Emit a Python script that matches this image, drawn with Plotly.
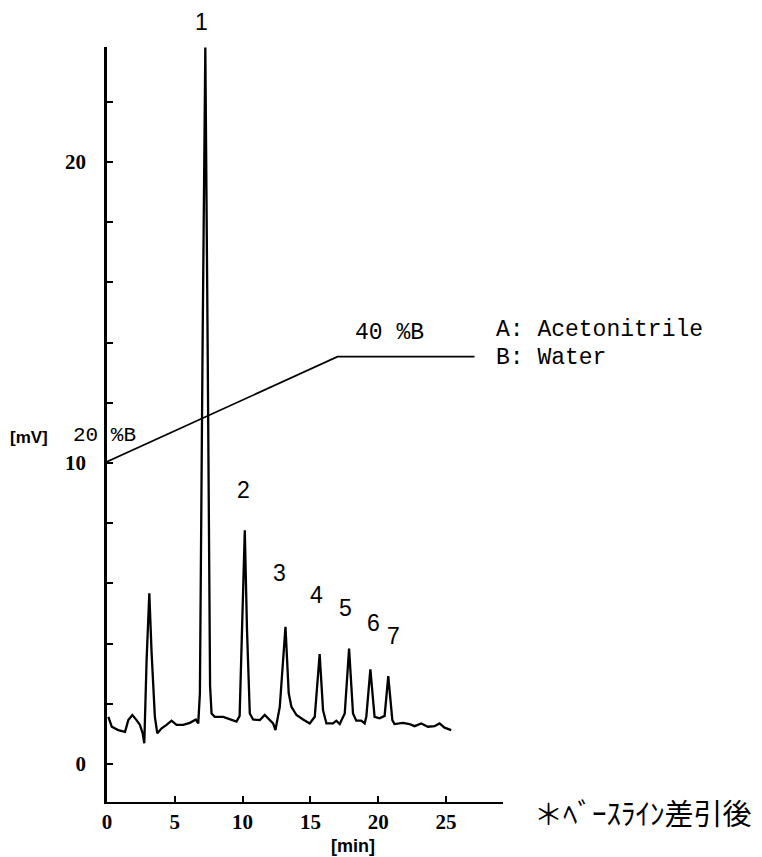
import plotly.graph_objects as go

# Chromatogram (time in min, signal in mV)
time_min = [0.1, 0.35, 0.83, 1.33, 1.57, 1.87, 2.18, 2.43, 2.63, 2.75, 2.92, 3.12, 3.29, 3.53, 3.71,
            4.03, 4.39, 4.76, 5.13, 5.62, 6.11, 6.55, 6.73, 6.85, 7.05, 7.25, 7.42, 7.6, 7.71, 7.95,
            8.57, 9.18, 9.55, 9.78, 10.0, 10.16, 10.32, 10.53, 10.77, 11.27, 11.63, 12.0, 12.25, 12.42,
            12.74, 13.16, 13.4, 13.6, 13.97, 14.46, 14.95, 15.32, 15.68, 15.93, 16.18, 16.67, 16.91,
            17.16, 17.53, 17.85, 18.14, 18.38, 18.75, 19.0, 19.12, 19.42, 19.73, 20.1, 20.47, 20.74,
            21.04, 21.2, 21.82, 22.3, 22.68, 23.17, 23.66, 24.15, 24.52, 24.89, 25.38]
signal_mv = [1.57, 1.24, 1.13, 1.07, 1.46, 1.63, 1.46, 1.30, 1.02, 0.69, 3.46, 5.67, 3.68, 1.57, 1.02,
             1.19, 1.30, 1.44, 1.30, 1.30, 1.37, 1.48, 1.35, 2.35, 14.0, 23.8, 14.0, 2.6, 1.68, 1.57,
             1.57, 1.46, 1.41, 1.6, 5.0, 7.77, 4.5, 1.68, 1.48, 1.46, 1.63, 1.48, 1.35, 1.13,
             1.9, 4.56, 2.35, 1.9, 1.63, 1.48, 1.35, 1.57, 3.65, 1.79, 1.35, 1.35, 1.44,
             1.33, 1.68, 3.84, 1.68, 1.44, 1.44, 1.35, 1.57, 3.15, 1.57, 1.52, 1.6, 2.92,
             1.46, 1.33, 1.37, 1.33, 1.26, 1.35, 1.24, 1.26, 1.35, 1.21, 1.13]

# Gradient program (%B)
grad_time = [0.0, 17.0, 27.1]
grad_pct_b = [20, 40, 40]

# Peak labels
peak_names = ["1", "2", "3", "4", "5", "6", "7"]
peak_label_t = [7.0, 10.05, 12.74, 15.44, 17.57, 19.66, 21.13]
peak_label_v = [24.65, 9.10, 6.35, 5.61, 5.19, 4.67, 4.25]

x_ticks = [0, 5, 10, 15, 20, 25]
y_ticks = [0, 2, 4, 6, 8, 10, 12, 14, 16, 18, 20, 22]
y_tick_text = ["0", "", "", "", "", "10", "", "", "", "", "20", ""]

X_RANGE = [0, 29.2]
Y_RANGE = [-1.26, 23.82]

# page offset of the figure (body margin) and plot box in page pixels
OFF = 8
PL, PR, PT, PB = 107, 503, 47, 802
W, H = 762 - OFF, 857 - OFF


def px(xp):
    return (xp - PL) / (PR - PL)


def py(yp):
    return (PB - yp) / (PB - PT)


fig = go.Figure()
fig.add_trace(go.Scatter(x=time_min, y=signal_mv, mode="lines",
                         line=dict(color="black", width=2.3), cliponaxis=False,
                         showlegend=False, hoverinfo="skip"))
fig.add_trace(go.Scatter(x=grad_time, y=grad_pct_b, mode="lines", yaxis="y2",
                         line=dict(color="black", width=1.7), cliponaxis=False,
                         showlegend=False, hoverinfo="skip"))

label_font = dict(family="Liberation Sans", size=23, color="black")
ann = []
for n, t, v in zip(peak_names, peak_label_t, peak_label_v):
    ann.append(dict(x=(t - X_RANGE[0]) / (X_RANGE[1] - X_RANGE[0]),
                    y=(v - Y_RANGE[0]) / (Y_RANGE[1] - Y_RANGE[0]),
                    xref="paper", yref="paper", text=n, showarrow=False,
                    font=label_font, xanchor="center", yanchor="middle"))

mono = dict(family="Liberation Mono", size=23, color="black")
ann += [
    dict(x=20.84, y=14.32, xref="x", yref="y", text="40 %B", showarrow=False,
         font=mono, xanchor="center", yanchor="middle"),
    dict(x=px(494), y=py(330), xref="paper", yref="paper",
         text="A: Acetonitrile", showarrow=False, font=mono, xanchor="left", yanchor="middle"),
    dict(x=px(494), y=py(358), xref="paper", yref="paper",
         text="B: Water", showarrow=False, font=mono, xanchor="left", yanchor="middle"),
    dict(x=px(71), y=py(435), xref="paper", yref="paper",
         text="20 %B", showarrow=False, font=dict(family="Liberation Mono", size=21, color="black"),
         xanchor="left", yanchor="middle"),
    dict(x=px(29), y=py(437), xref="paper", yref="paper",
         text="<b>[mV]</b>", showarrow=False, font=dict(family="Liberation Sans", size=17, color="black"),
         xanchor="center", yanchor="middle"),
    dict(x=px(353), y=py(846), xref="paper", yref="paper",
         text="<b>[min]</b>", showarrow=False, font=dict(family="Liberation Sans", size=18, color="black"),
         xanchor="center", yanchor="middle"),
    dict(x=px(643), y=py(812), xref="paper", yref="paper",
         text="＊ﾍﾞｰｽﾗｲﾝ差引後", showarrow=False,
         font=dict(family="Noto Sans CJK JP", size=29, color="black"),
         xanchor="center", yanchor="middle"),
]

tick_font = dict(family="Liberation Serif", size=21, color="black", weight="bold")
fig.update_layout(
    width=W, height=H, autosize=False,
    margin=dict(l=PL - OFF, r=W - (PR - OFF), t=PT - OFF, b=H - (PB - OFF), pad=0),
    paper_bgcolor="white", plot_bgcolor="white",
    xaxis=dict(range=X_RANGE, tickvals=x_ticks, ticks="inside", ticklen=6, tickwidth=2,
               tickcolor="black", showline=True, linecolor="black", linewidth=2,
               showgrid=False, zeroline=False, tickfont=tick_font),
    yaxis=dict(range=Y_RANGE, tickvals=y_ticks, ticktext=y_tick_text, ticks="inside",
               ticklen=6, tickwidth=2, tickcolor="black", showline=True, linecolor="black",
               linewidth=2.5, showgrid=False, zeroline=False, tickfont=tick_font,
               ticklabelstandoff=14),
    yaxis2=dict(range=[-44.82, 98.99], overlaying="y", visible=False),
    annotations=ann,
)

fig.write_html("out.html")
